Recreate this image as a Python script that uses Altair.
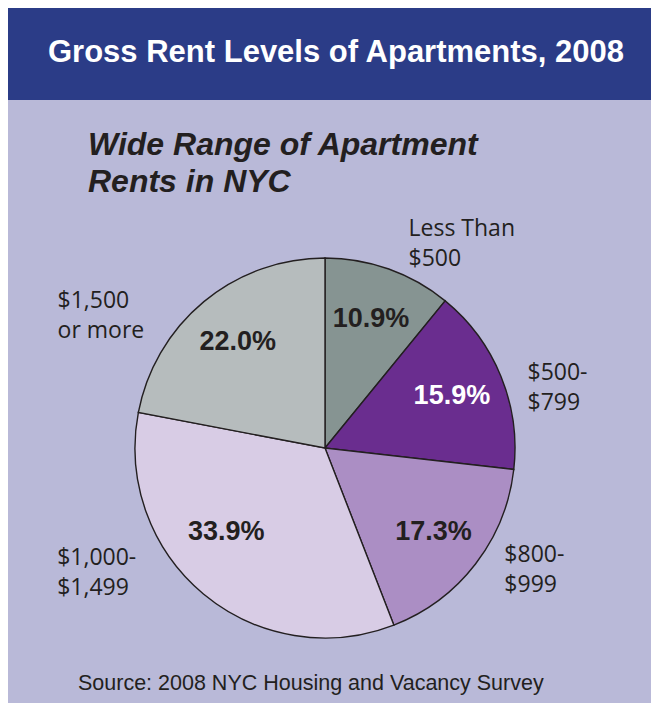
import altair as alt
import pandas as pd

# ---- data ----
categories = ["Less Than $500", "$500-$799", "$800-$999", "$1,000-$1,499", "$1,500 or more"]
label_lines = ["Less Than\n$500", "$500-\n$799", "$800-\n$999", "$1,000-\n$1,499", "$1,500\nor more"]
shares = [10.9, 15.9, 17.3, 33.9, 22.0]
slice_colors = ["#869492", "#6a2d8f", "#ab8ec4", "#d8cce5", "#b6bcbd"]

title_text = "Gross Rent Levels of Apartments, 2008"
subtitle_text = "Wide Range of Apartment\nRents in NYC"
source_text = "Source: 2008 NYC Housing and Vacancy Survey"

df = pd.DataFrame({
    "idx": list(range(len(categories))),
    "category": categories,
    "label": label_lines,
    "share": shares,
    "pct": [f"{v:.1f}%" for v in shares],
})

W, H = 643, 695
CX, CY = 317, 440
R = 190
DARK = "#231f20"
BG = "#b9b9d8"
HEADER = "#2b3c87"

base = alt.Chart(df).encode(
    theta=alt.Theta("share:Q", stack=True),
    order=alt.Order("idx:Q"),
    x=alt.value(CX),
    y=alt.value(CY),
)

pie = base.mark_arc(radius=R, stroke=DARK, strokeWidth=1.4).encode(
    color=alt.Color("category:N", scale=alt.Scale(domain=categories, range=slice_colors), legend=None)
)

pct_style = dict(font="Liberation Sans", fontWeight="bold", fontSize=27,
                 align="center", baseline="middle")

pct_text = base.mark_text(radius=137, **pct_style).encode(
    text=alt.condition(alt.datum.idx != 3, alt.Text("pct:N"), alt.value("")),
    color=alt.condition(alt.datum.idx == 1, alt.value("white"), alt.value(DARK)),
)

pct_text_big = base.mark_text(radius=137, dx=-11, dy=-21, color=DARK, **pct_style).encode(
    text=alt.condition(alt.datum.idx == 3, alt.Text("pct:N"), alt.value("")),
)

label_style = dict(align="left", baseline="middle", lineBreak="\n", lineHeight=30,
                   font="Open Sans", fontSize=23, color=DARK)

right_labels = base.mark_text(radius=210, dx=13, dy=-21, **label_style).encode(
    text=alt.condition((alt.datum.idx == 0) | (alt.datum.idx == 2), alt.Text("label:N"), alt.value(""))
)

mid_right_label = base.mark_text(radius=210, dx=8, dy=4, **label_style).encode(
    text=alt.condition(alt.datum.idx == 1, alt.Text("label:N"), alt.value(""))
)

left_labels = base.mark_text(radius=167, dx=-161, dy=-18, **label_style).encode(
    text=alt.condition(alt.datum.idx >= 3, alt.Text("label:N"), alt.value(""))
)

one = alt.Data(values=[{"k": 1}])

header = alt.Chart(one).mark_rect(color=HEADER).encode(
    x=alt.value(0), x2=alt.value(W), y=alt.value(0), y2=alt.value(92)
)

title = alt.Chart(one).mark_text(
    text=title_text, font="Liberation Sans", fontWeight="bold", fontSize=31,
    color="white", align="center", baseline="middle"
).encode(x=alt.value(328), y=alt.value(45))

subtitle = alt.Chart(one).mark_text(
    text=subtitle_text, lineBreak="\n", lineHeight=37, font="Liberation Sans",
    fontWeight="bold", fontStyle="italic", fontSize=32, color=DARK,
    align="left", baseline="middle"
).encode(x=alt.value(80), y=alt.value(137))

source = alt.Chart(one).mark_text(
    text=source_text, font="Liberation Sans", fontSize=21.5, color=DARK,
    align="left", baseline="middle"
).encode(x=alt.value(70), y=alt.value(676))

chart = alt.layer(
    header, title, subtitle, pie, pct_text, pct_text_big,
    right_labels, mid_right_label, left_labels, source
).properties(
    width=W, height=H, padding=0, background=BG,
    autosize=alt.AutoSizeParams(type="fit", contains="padding"),
).configure_view(stroke=None)

chart.save("out.html", embed_options={"renderer": "svg", "actions": False})
